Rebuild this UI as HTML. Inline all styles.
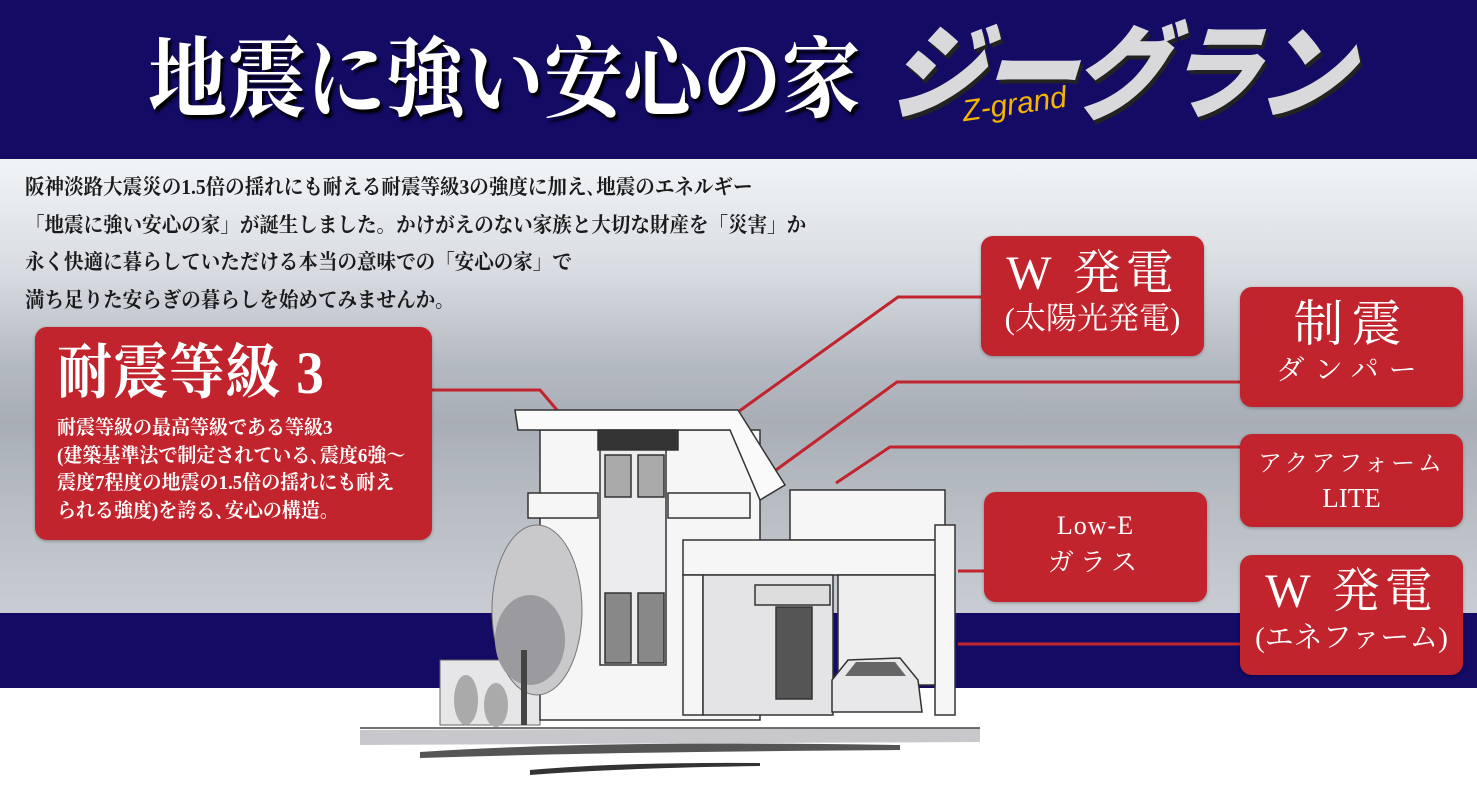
<!DOCTYPE html>
<html><head><meta charset="utf-8"><style>
*{margin:0;padding:0;box-sizing:border-box}
body{width:1477px;height:789px;overflow:hidden;background:#fff;position:relative;font-family:"Liberation Serif","Noto Serif CJK SC",serif}
#hdr{position:absolute;left:0;top:0;width:1477px;height:159px;background:#130b64}
#bg{position:absolute;left:0;top:159px;width:1477px;height:454px;background:linear-gradient(#f1f4f7 0%,#d8dce1 25%,#b5bac2 45%,#a9aeb6 58%,#b7bcc3 75%,#c9cdd3 100%)}
#band{position:absolute;left:0;top:613px;width:1477px;height:75px;background:#130b64}
.t{position:absolute;color:#fff;white-space:nowrap}
.box{position:absolute;background:#c1242d;border-radius:12px;color:#fff;text-align:center;white-space:nowrap;box-shadow:0 1px 3px rgba(0,0,0,.3)}
#para{position:absolute;left:25px;top:169px;font-size:21px;line-height:37.5px;color:#1a1a1a;white-space:nowrap;font-weight:bold;transform:scaleX(0.93);transform-origin:left top}
</style></head><body>
<div id="hdr"></div>
<div id="bg"></div>
<div id="band"></div>

<div class="t" style="left:148px;top:32px;font-size:88px;line-height:100px;transform:scaleX(0.9);transform-origin:left top;font-weight:bold;text-shadow:3px 4px 3px #000">地震に強い安心の家</div>
<div class="t" style="left:893px;top:20px;font-family:'Liberation Sans','Noto Sans CJK JP',sans-serif;font-weight:900;font-style:italic;font-size:104px;line-height:110px;color:#d9d9dc;transform:skewX(-4deg) scaleX(0.92);transform-origin:left top;letter-spacing:-4px;text-shadow:3px 4px 0 #222">ジーグラン</div>
<div class="t" style="left:962px;top:88px;font-family:'Liberation Sans',sans-serif;font-style:italic;font-size:30px;color:#f5b400;transform:rotate(-8deg)">Z-grand</div>

<div id="para">阪神淡路大震災の1.5倍の揺れにも耐える耐震等級3の強度に加え､地震のエネルギー<br>「地震に強い安心の家」が誕生しました。かけがえのない家族と大切な財産を「災害」か<br>永く快適に暮らしていただける本当の意味での「安心の家」で<br>満ち足りた安らぎの暮らしを始めてみませんか。</div>

<svg style="position:absolute;left:0;top:0" width="1477" height="789">
<g stroke="#c1242d" stroke-width="3" fill="none">
<polyline points="432,390 540,390 557,410"/>
<polyline points="981,297 898,297 738,412"/>
<polyline points="1240,382 897,382 776,470"/>
<polyline points="1240,447 890,447 836,483"/>
<polyline points="984,571 958,571"/>
<polyline points="1240,644 958,644"/>
</g>
<path d="M360,730 L980,728 L980,742 L360,745 Z" fill="#c8c8cc"/>
<path d="M420,752 Q600,740 900,745 L900,750 Q600,752 420,758Z" fill="#555"/>
<path d="M530,770 Q620,762 760,763 L760,766 Q620,768 530,775Z" fill="#333"/>
<line x1="360" y1="728" x2="980" y2="728" stroke="#444" stroke-width="1.5"/>
<rect x="440" y="660" width="100" height="65" fill="#e6e6e8" stroke="#666"/>
<g stroke="#333" stroke-width="1.5" fill="#f6f6f7">
<rect x="540" y="430" width="220" height="290"/>
<path d="M515,410 L738,410 L785,485 L760,500 L730,430 L518,430 Z" fill="#fafafa"/>
<rect x="790" y="490" width="155" height="50"/>
<rect x="598" y="430" width="80" height="20" fill="#333"/>
<rect x="600" y="450" width="66" height="215" fill="#ececee"/>
<rect x="605" y="455" width="26" height="42" fill="#aaa"/><rect x="638" y="455" width="26" height="42" fill="#aaa"/>
<rect x="605" y="593" width="26" height="70" fill="#888"/><rect x="638" y="593" width="26" height="70" fill="#888"/>
<rect x="528" y="493" width="70" height="25"/>
<rect x="668" y="493" width="82" height="25"/>
<rect x="683" y="540" width="268" height="35"/>
<rect x="683" y="575" width="20" height="140"/>
<rect x="935" y="525" width="20" height="190"/>
<rect x="703" y="575" width="130" height="140" fill="#e4e4e6"/>
<rect x="776" y="607" width="36" height="92" fill="#555"/>
<rect x="755" y="585" width="75" height="20" fill="#ddd"/>
<rect x="838" y="575" width="97" height="110" fill="#eee"/>
</g>
<path d="M832,712 L832,680 L848,660 L900,658 L918,680 L922,712 Z" fill="#e8e8ea" stroke="#333" stroke-width="1.5"/>
<path d="M845,676 L856,662 L895,662 L906,676Z" fill="#666"/>
<ellipse cx="537" cy="610" rx="45" ry="85" fill="#c9c9cc" stroke="#777"/>
<ellipse cx="530" cy="640" rx="35" ry="45" fill="#9a9a9f"/>
<rect x="521" y="650" width="6" height="75" fill="#444"/>
<ellipse cx="466" cy="700" rx="12" ry="25" fill="#aaa"/>
<ellipse cx="496" cy="705" rx="12" ry="22" fill="#aaa"/>
</svg>

<div class="box" style="left:35px;top:327px;width:397px;height:213px;text-align:left">
 <div style="position:absolute;left:22px;top:8px;font-size:60px;line-height:76px;letter-spacing:1px;font-weight:bold;transform:scaleX(0.92);transform-origin:left top">耐震等級 3</div>
 <div style="position:absolute;left:22px;top:88px;font-size:20px;line-height:27.5px;font-weight:bold;transform:scaleX(0.95);transform-origin:left top">耐震等級の最高等級である等級3<br>(建築基準法で制定されている､震度6強～<br>震度7程度の地震の1.5倍の揺れにも耐え<br>られる強度)を誇る､安心の構造。</div>
</div>
<div class="box" style="left:981px;top:236px;width:223px;height:120px">
 <div style="font-size:48px;line-height:52px;margin-top:12px;letter-spacing:5px">W 発電</div>
 <div style="font-size:31px;line-height:38px">(太陽光発電)</div>
</div>
<div class="box" style="left:1240px;top:287px;width:223px;height:120px">
 <div style="font-size:50px;line-height:56px;margin-top:9px;letter-spacing:8px">制震</div>
 <div style="font-size:28px;line-height:38px;letter-spacing:10px">ダンパー</div>
</div>
<div class="box" style="left:1240px;top:434px;width:223px;height:93px">
 <div style="font-size:24px;line-height:32px;margin-top:14px;letter-spacing:3px">アクアフォーム</div>
 <div style="font-size:27px;line-height:36px">LITE</div>
</div>
<div class="box" style="left:984px;top:492px;width:223px;height:110px">
 <div style="font-size:26px;line-height:36px;margin-top:16px;letter-spacing:1px">Low-E</div>
 <div style="font-size:26px;line-height:38px;letter-spacing:6px">ガラス</div>
</div>
<div class="box" style="left:1240px;top:555px;width:223px;height:120px">
 <div style="font-size:48px;line-height:52px;margin-top:11px;letter-spacing:5px">W 発電</div>
 <div style="font-size:29px;line-height:40px">(エネファーム)</div>
</div>
</body></html>
